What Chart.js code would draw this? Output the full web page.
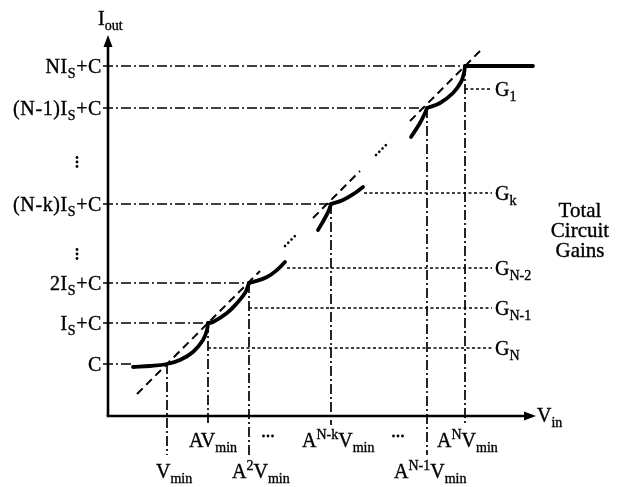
<!DOCTYPE html>
<html><head><meta charset="utf-8">
<script src="https://cdn.jsdelivr.net/npm/chart.js@4"></script>
<style>html,body{margin:0;padding:0;background:#fff;}canvas{display:block}</style>
</head><body>
<canvas id="c" width="619" height="487"></canvas>
<script>
// ---------- data (schematic units: x = V_in, y = I_out) ----------
const levelLabels = ['C', 'I_{S}+C', '2I_{S}+C', '(N-k)I_{S}+C', '(N-1)I_{S}+C', 'NI_{S}+C'];
const levelY      = [52, 93, 133, 212, 308, 350];
const levelEndX   = [25, 100, 141, 223, 319, 357];

const inputLabels = ['V_{min}', 'AV_{min}', 'A^{2}V_{min}', 'A^{N-k}V_{min}', 'A^{N-1}V_{min}', 'A^{N}V_{min}'];
const inputX      = [59, 100, 141, 223, 319, 357];
const inputTopY   = [52, 93, 133, 212, 308, 350];
const inputRow    = [1, 0, 1, 0, 1, 0];

const gainLabels = ['G_{1}', 'G_{k}', 'G_{N-2}', 'G_{N-1}', 'G_{N}'];
const gainY      = [327, 223, 148, 108, 68];
const gainStartX = [357, 256, 179, 141, 100];
const gainEndX   = 384;

const curve0       = [[25,49],[42,50],[59,52],[72,56],[85,64],[95,76],[99,86],[100,93]];
const curve1       = [[100,93],[105,94],[119,103],[130,114],[137,123],[140,130],[141,133]];
const curve2       = [[141,133],[145,134],[159,139],[169,146],[177,154]];
const curveKTail   = [[210,186],[217,198],[221,206],[223,212]];
const curveK       = [[223,212],[235,216],[247,223],[255,229]];
const curveTopTail = [[303,279],[312,293],[317,303],[319,308]];
const curveTop     = [[319,308],[332,313],[345,323],[353,334],[356,343],[357,350]];
const saturation   = [[357,350],[425,350]];

const idealDashed = [[[29,22],[152,145]], [[205,198],[252,245]], [[302,295],[375,368]]];
const idealDotted = [[[177,170],[188,181]], [[268,261],[280,273]]];

// ---------- layout / styles ----------
const X_MAX = 425, Y_MAX = 376;
const inputLabelShift = [-11, -19, -17, -29, -33, -28];
const MAIN = '20px "Liberation Serif"', SMALL = '14px "Liberation Serif"';

const datasets = [];
function addLine(points, style) {
  datasets.push(Object.assign({
    data: points.map(p => ({x: p[0], y: p[1]})),
    showLine: true, pointRadius: 0, borderColor: '#000', clip: false, fill: false, tension: 0
  }, style));
}
const dashDot = {borderWidth: 1.7, borderDash: [10, 3, 2, 3]};
const dotted  = {borderWidth: 1.7, borderDash: [3, 2.5]};
const thick   = {borderWidth: 3.8, tension: 0.4, borderCapStyle: 'round'};

levelY.forEach((y, i) => addLine([[-5, y], [levelEndX[i], y]], dashDot));
inputX.forEach((x, i) => addLine([[x, inputTopY[i]], [x, inputRow[i] ? -39 : -9]], dashDot));
gainY.forEach((y, i) => addLine([[gainStartX[i], y], [gainEndX, y]], dotted));
idealDashed.forEach(s => addLine(s, {borderWidth: 2, borderDash: [8, 5]}));
idealDotted.forEach(s => addLine(s, {borderWidth: 2.6, borderDash: [0.1, 4.5], borderCapStyle: 'round'}));
[curve0, curve1, curve2, curveKTail, curveK, curveTopTail, curveTop].forEach(c => addLine(c, thick));
addLine(saturation, {borderWidth: 3.8, borderCapStyle: 'round'});

function drawRich(ctx, str, x, y, align, spacing) {
  const parts = [];
  const re = /(_|\^)\{([^}]*)\}|([^_^]+)/g; let m;
  while ((m = re.exec(str))) {
    if (m[3]) parts.push({t: m[3], f: MAIN, dy: 0});
    else parts.push({t: m[2], f: SMALL, dy: m[1] === '_' ? 5 : -8});
  }
  ctx.letterSpacing = (spacing || 0) + 'px';
  let w = 0;
  parts.forEach(p => { ctx.font = p.f; p.w = ctx.measureText(p.t).width; w += p.w; });
  let cx = align === 'right' ? x - w : align === 'center' ? x - w / 2 : x;
  ctx.textAlign = 'left'; ctx.textBaseline = 'alphabetic'; ctx.lineWidth = 0.35;
  parts.forEach(p => { ctx.font = p.f; ctx.fillText(p.t, cx, y + p.dy); ctx.strokeText(p.t, cx, y + p.dy); cx += p.w; });
  ctx.letterSpacing = '0px';
}
function dots(ctx, x, y, dx, dy) {
  for (let k = -1; k <= 1; k++) { ctx.beginPath(); ctx.arc(x + k*dx, y + k*dy, 1.4, 0, Math.PI*2); ctx.fill(); }
}

const annot = {
  id: 'annot',
  beforeDraw(chart) { const c = chart.ctx; c.save(); c.fillStyle = '#fff'; c.fillRect(0,0,chart.width,chart.height); c.restore(); },
  afterDatasetsDraw(chart) {
    const ctx = chart.ctx, xs = chart.scales.x, ys = chart.scales.y;
    const X = v => xs.getPixelForValue(v), Y = v => ys.getPixelForValue(v);
    ctx.save();
    ctx.strokeStyle = '#000'; ctx.fillStyle = '#000'; ctx.lineWidth = 2.6; ctx.setLineDash([]);
    const x0 = X(0), y0 = Y(0);
    ctx.beginPath(); ctx.moveTo(x0, y0); ctx.lineTo(x0, Y(Y_MAX) + 4); ctx.stroke();
    ctx.beginPath(); ctx.moveTo(x0 - 1.3, y0); ctx.lineTo(X(X_MAX) - 4, y0); ctx.stroke();
    ctx.beginPath(); ctx.moveTo(x0, Y(Y_MAX) - 5); ctx.lineTo(x0 - 4.5, Y(Y_MAX) + 7); ctx.lineTo(x0 + 4.5, Y(Y_MAX) + 7); ctx.closePath(); ctx.fill();
    ctx.beginPath(); ctx.moveTo(X(X_MAX) + 3, y0); ctx.lineTo(X(X_MAX) - 9, y0 - 4.5); ctx.lineTo(X(X_MAX) - 9, y0 + 4.5); ctx.closePath(); ctx.fill();

    drawRich(ctx, 'I_{out}', x0 - 10, 25, 'left');
    drawRich(ctx, 'V_{in}', X(X_MAX) + 4, y0 + 6, 'left');

    levelLabels.forEach((l, i) => drawRich(ctx, l, x0 - 6, Y(levelY[i]) + 7, 'right', 0.6));
    inputLabels.forEach((l, i) => drawRich(ctx, l, X(inputX[i]) + inputLabelShift[i], inputRow[i] ? 478 : 447, 'left'));
    gainLabels.forEach((l, i) => drawRich(ctx, l, X(gainEndX) + 3, Y(gainY[i]) + 7, 'left'));

    ctx.font = '21px "Liberation Serif"'; ctx.textAlign = 'center'; ctx.lineWidth = 0.35;
    [['Total', 217], ['Circuit', 237], ['Gains', 257]].forEach(([t, yy]) => { ctx.fillText(t, 580, yy); ctx.strokeText(t, 580, yy); });

    dots(ctx, 77, 162, 0, 4.5); dots(ctx, 77, 254, 0, 4.5);
    dots(ctx, 268, 436, 4.5, 0); dots(ctx, 398, 436, 4.5, 0);
    ctx.restore();
  }
};

new Chart(document.getElementById('c'), {
  type: 'scatter',
  data: {datasets},
  options: {
    responsive: false, animation: false,
    layout: {padding: {left: 108, right: 619 - 533, top: 40, bottom: 487 - 416}},
    plugins: {legend: {display: false}, tooltip: {enabled: false}},
    scales: {
      x: {type: 'linear', min: 0, max: X_MAX, display: false},
      y: {type: 'linear', min: 0, max: Y_MAX, display: false}
    }
  },
  plugins: [annot]
});
</script>
</body></html>
